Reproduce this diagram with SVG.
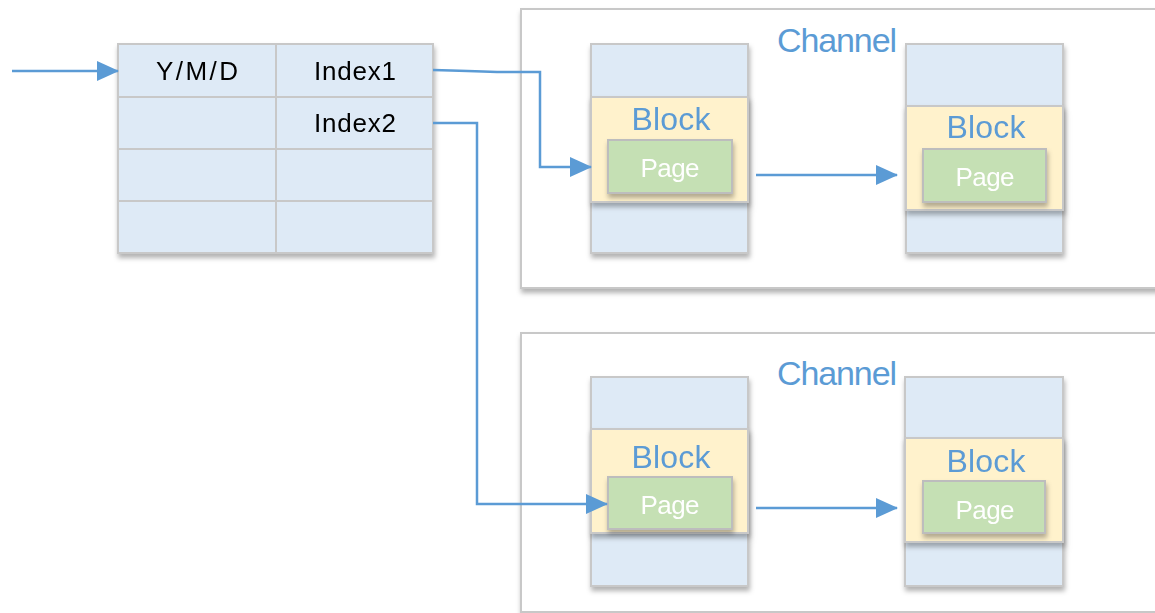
<svg xmlns="http://www.w3.org/2000/svg" width="1155" height="613" viewBox="0 0 1155 613">
<defs>
<filter id="sh" x="-10%" y="-10%" width="130%" height="130%"><feDropShadow dx="1" dy="4" stdDeviation="2.5" flood-color="#000" flood-opacity="0.3"/></filter>
<marker id="ah" markerWidth="22" markerHeight="20" refX="21" refY="10" orient="auto" markerUnits="userSpaceOnUse"><path d="M0,0 L22,10 L0,20 z" fill="#5b9bd5"/></marker>
<style>
.cell{fill:#deeaf6;stroke:#c8c8c8;stroke-width:2}
.ch{fill:#fff;stroke:#c8c8c8;stroke-width:2}
.blk{fill:#fff2cc;stroke:#c8c8c8;stroke-width:2}
.pg{fill:#c5e0b4;stroke:#bdbdbd;stroke-width:2}
.t{font-family:"Liberation Sans",Arial,sans-serif;font-size:26px;fill:#000;text-anchor:middle}
.bt{font-family:"Liberation Sans",Arial,sans-serif;font-size:32px;fill:#5b9bd5;text-anchor:middle}
.ct{font-family:"Liberation Sans",Arial,sans-serif;font-size:34px;fill:#5b9bd5}
.pt{font-family:"Liberation Sans",Arial,sans-serif;font-size:26px;fill:#fff;text-anchor:middle}
.cn{fill:none;stroke:#5b9bd5;stroke-width:2.5}
</style>
</defs>
<g id="table" filter="url(#sh)">
<rect class="cell" x="118" y="44" width="158" height="53"/>
<rect class="cell" x="276" y="44" width="157" height="53"/>
<rect class="cell" x="118" y="97" width="158" height="52"/>
<rect class="cell" x="276" y="97" width="157" height="52"/>
<rect class="cell" x="118" y="149" width="158" height="52"/>
<rect class="cell" x="276" y="149" width="157" height="52"/>
<rect class="cell" x="118" y="201" width="158" height="52"/>
<rect class="cell" x="276" y="201" width="157" height="52"/>
<text class="t" x="197" y="80" textLength="82">Y/M/D</text>
<text class="t" x="355" y="80" textLength="82">Index1</text>
<text class="t" x="355" y="132" textLength="82">Index2</text>
</g>
<g id="channel1">
<rect class="ch" x="521" y="9" width="650" height="279" filter="url(#sh)"/>
<text class="ct" x="777" y="52" textLength="120">Channel</text>
</g>
<g id="block1a" filter="url(#sh)">
<rect class="cell" x="591" y="44" width="157" height="209"/>
<rect class="blk" x="591" y="97" width="157" height="105" filter="url(#sh)"/>
<text class="bt" x="671" y="130" textLength="79">Block</text>
<rect class="pg" x="608" y="140" width="124" height="53" filter="url(#sh)"/>
<text class="pt" x="670" y="177" textLength="59">Page</text>
</g>
<g id="block1b" filter="url(#sh)">
<rect class="cell" x="906" y="44" width="157" height="209"/>
<rect class="blk" x="906" y="106" width="157" height="104" filter="url(#sh)"/>
<text class="bt" x="986" y="138" textLength="79">Block</text>
<rect class="pg" x="923" y="149" width="123" height="53" filter="url(#sh)"/>
<text class="pt" x="985" y="186" textLength="59">Page</text>
</g>
<g id="channel2">
<rect class="ch" x="521" y="333" width="650" height="279" filter="url(#sh)"/>
<text class="ct" x="777" y="385" textLength="120">Channel</text>
</g>
<g id="block2a" filter="url(#sh)">
<rect class="cell" x="591" y="377" width="157" height="209"/>
<rect class="blk" x="591" y="429" width="157" height="104" filter="url(#sh)"/>
<text class="bt" x="671" y="468" textLength="79">Block</text>
<rect class="pg" x="608" y="477" width="124" height="52" filter="url(#sh)"/>
<text class="pt" x="670" y="514" textLength="59">Page</text>
</g>
<g id="block2b" filter="url(#sh)">
<rect class="cell" x="905" y="377" width="158" height="209"/>
<rect class="blk" x="905" y="438" width="158" height="104" filter="url(#sh)"/>
<text class="bt" x="986" y="472" textLength="79">Block</text>
<rect class="pg" x="923" y="481" width="122" height="52" filter="url(#sh)"/>
<text class="pt" x="985" y="519" textLength="59">Page</text>
</g>
<g id="connectors">
<path class="cn" d="M12,71 L118,71" marker-end="url(#ah)"/>
<path class="cn" d="M433,70 Q470,71 497,72 L540,72 L540,167 L591,167" marker-end="url(#ah)"/>
<path class="cn" d="M433,123 L477,123 L477,504 L607,504" marker-end="url(#ah)"/>
<path class="cn" d="M756,175 L897,175" marker-end="url(#ah)"/>
<path class="cn" d="M756,508 L897,508" marker-end="url(#ah)"/>
</g>
</svg>
